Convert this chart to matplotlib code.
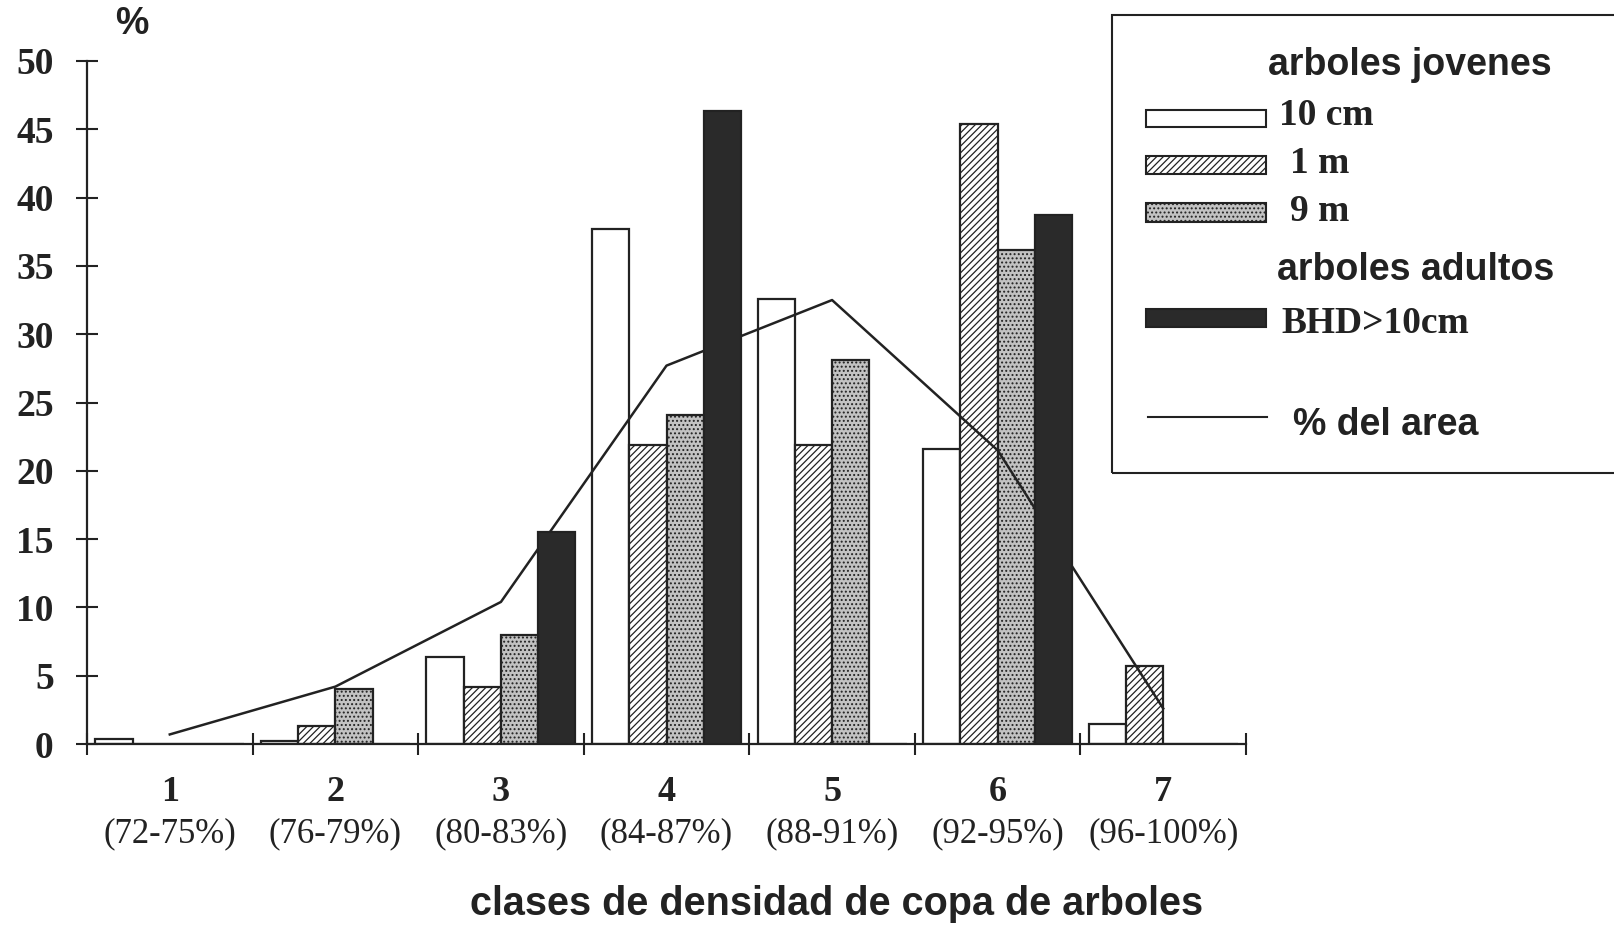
import matplotlib
matplotlib.use("Agg")
import matplotlib.pyplot as plt
from matplotlib.patches import Rectangle
from matplotlib.lines import Line2D
import numpy as np

# data
classes = ["1", "2", "3", "4", "5", "6", "7"]
ranges = ["(72-75%)", "(76-79%)", "(80-83%)", "(84-87%)", "(88-91%)", "(92-95%)", "(96-100%)"]
young_10cm = [0.4, 0.2, 6.4, 37.7, 32.6, 21.6, 1.5]
young_1m = [0.0, 1.35, 4.15, 21.9, 21.9, 45.4, 5.7]
young_9m = [0.0, 4.0, 8.0, 24.05, 28.1, 36.2, 0.0]
adult_bhd = [0.0, 0.0, 15.5, 46.35, 0.0, 38.7, 0.0]
area_pct = [0.7, 4.2, 10.4, 27.7, 32.5, 21.5, 2.6]
yticks = [0, 5, 10, 15, 20, 25, 30, 35, 40, 45, 50]

W, H = 1614, 932
INK = "#222222"
SERIF = ["Liberation Serif", "DejaVu Serif"]
SANS = ["Liberation Sans", "DejaVu Sans"]
STIPPLE = "#c2c2c2"

plt.rcParams["hatch.linewidth"] = 0.9


def fx(px):
    return px / W


def fy(py):
    return 1 - py / H


fig = plt.figure(figsize=(W / 100, H / 100), dpi=100)
ax = fig.add_axes([fx(87), fy(744), fx(1246) - fx(87), fy(61) - fy(744)])

x = np.arange(1, len(classes) + 1)
w = 0.225
styles = [
    (young_10cm, dict(facecolor="white", hatch=None), 2),
    (young_1m, dict(facecolor="white", hatch="/////"), 2),
    (young_9m, dict(facecolor=STIPPLE, hatch="...."), 2),
    (adult_bhd, dict(facecolor="#2a2a2a", hatch=None), 4),
]
for i, (vals, st, z) in enumerate(styles):
    ax.bar(x + (i - 1.5) * w, vals, width=w, edgecolor=INK, linewidth=1.6,
           zorder=z, **st)

ax.plot(x, area_pct, color=INK, linewidth=1.8, zorder=3)

ax.set_xlim(0.5, 7.5)
ax.set_ylim(0, 50)
ax.set_yticks(yticks)
ax.set_yticklabels([str(v) for v in yticks], fontfamily=SERIF, fontweight="bold",
                   fontsize=27)
ax.tick_params(axis="y", direction="inout", length=16, width=1.5, pad=16, colors=INK)

ax.set_xticks(x)
ax.set_xticklabels(classes, fontfamily=SERIF, fontweight="bold", fontsize=26)
ax.set_xticks(np.arange(0.5, 8.0, 1.0), minor=True)
ax.tick_params(axis="x", which="major", length=0, pad=23, colors=INK)
ax.tick_params(axis="x", which="minor", direction="inout", length=16, width=1.5, colors=INK)

for xi, r in zip(x, ranges):
    ax.text(xi, -0.131, r, transform=ax.get_xaxis_transform(), ha="center", va="center",
            fontfamily=SERIF, fontsize=25, color=INK)

for s in ["top", "right"]:
    ax.spines[s].set_visible(False)
for s in ["left", "bottom"]:
    ax.spines[s].set_linewidth(1.6)
    ax.spines[s].set_color(INK)

fig.text(fx(132), fy(24), "%", ha="center", va="center", fontfamily=SANS,
         fontweight="bold", fontsize=27, color=INK)
fig.text(fx(837), fy(904), "clases de densidad de copa de arboles", ha="center",
         va="center", fontfamily=SANS, fontweight="bold", fontsize=28.5, color=INK)

# legend box, cut off by the right edge like the scan
fig.add_artist(Rectangle((fx(1112), fy(473)), fx(1640) - fx(1112), fy(15) - fy(473),
                         transform=fig.transFigure, facecolor="none", edgecolor=INK,
                         linewidth=1.5))


def swatch(top, bottom, **kw):
    fig.add_artist(Rectangle((fx(1146), fy(bottom)), fx(1266) - fx(1146), fy(top) - fy(bottom),
                             transform=fig.transFigure, edgecolor=INK, linewidth=1.5, **kw))


swatch(110, 127, facecolor="white")
swatch(156, 174, facecolor="white", hatch="/////")
swatch(203, 222, facecolor=STIPPLE, hatch="....")
swatch(309, 327, facecolor="#2a2a2a")
fig.add_artist(Line2D([fx(1148), fx(1267)], [fy(417), fy(417)], transform=fig.transFigure,
                      color=INK, linewidth=1.5))

legend_texts = [
    (1268, 75, "arboles jovenes", SANS, 27),
    (1279, 125, "10 cm", SERIF, 27),
    (1290, 173, "1 m", SERIF, 27),
    (1290, 221, "9 m", SERIF, 27),
    (1277, 280, "arboles adultos", SANS, 27),
    (1281, 333, "BHD>10cm", SERIF, 27),
    (1293, 435, "% del area", SANS, 27),
]
for px, py, txt, fam, size in legend_texts:
    fig.text(fx(px), fy(py), txt, ha="left", va="baseline", fontfamily=fam,
             fontweight="bold", fontsize=size, color=INK)

fig.savefig("out.png", dpi=100)
